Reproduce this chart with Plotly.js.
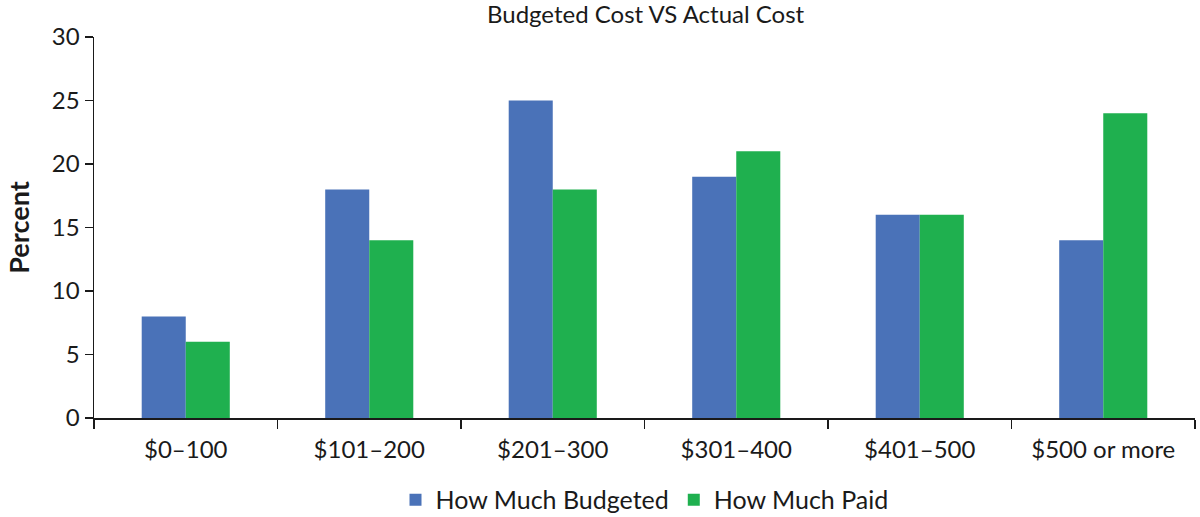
<!DOCTYPE html>
<html>
<head>
<meta charset="utf-8">
<script src="https://cdn.plot.ly/plotly-3.0.1.min.js"></script>
<style>
  body { margin: 0; background: #fff; }
  #chart { width: 1200px; height: 517px; }
</style>
</head>
<body>
<div id="chart"></div>
<script>
const categories = ['$0–100', '$101–200', '$201–300', '$301–400', '$401–500', '$500 or more'];
const budgeted = [8, 18, 25, 19, 16, 14];
const paid = [6, 14, 18, 21, 16, 24];

const font = 'Lato, "Open Sans", sans-serif';

const traces = [
  {
    x: categories,
    y: budgeted,
    name: 'How Much Budgeted',
    type: 'bar',
    marker: { color: '#4a72b8' },
  },
  {
    x: categories,
    y: paid,
    name: 'How Much Paid',
    type: 'bar',
    marker: { color: '#1fb04f' },
  },
];

const layout = {
  width: 1200,
  height: 517,
  margin: { l: 94, r: 5, t: 37, b: 99, autoexpand: false },
  paper_bgcolor: '#fff',
  plot_bgcolor: '#fff',
  font: { family: font, color: '#1a1a1a', size: 24 },
  title: {
    text: 'Budgeted Cost VS Actual Cost',
    font: { size: 24, color: '#1a1a1a' },
    x: 0.538,
    xanchor: 'center',
    y: 0.972,
    yanchor: 'middle',
  },
  barmode: 'group',
  bargap: 0.52,
  bargroupgap: 0,
  showlegend: true,
  legend: {
    orientation: 'h',
    x: 0.5,
    xanchor: 'center',
    y: -0.215,
    yanchor: 'middle',
    font: { size: 25 },
    itemwidth: 30,
    tracegroupgap: 0,
  },
  xaxis: {
    type: 'category',
    showline: true,
    linecolor: '#1a1a1a',
    linewidth: 1.5,
    ticks: 'outside',
    tickson: 'boundaries',
    ticklen: 9,
    tickcolor: '#1a1a1a',
    tickwidth: 1.5,
    ticklabelstandoff: 10,
    showgrid: false,
    zeroline: false,
    tickfont: { size: 24 },
  },
  yaxis: {
    range: [0, 30],
    dtick: 5,
    showline: true,
    linecolor: '#1a1a1a',
    linewidth: 1.5,
    ticks: 'outside',
    ticklen: 8,
    tickcolor: '#1a1a1a',
    tickwidth: 1.5,
    showgrid: false,
    zeroline: false,
    tickfont: { size: 24 },
    title: {
      text: '<b>Percent</b>',
      font: { size: 27 },
      standoff: 14,
    },
  },
};

Plotly.newPlot('chart', traces, layout, { displayModeBar: false, staticPlot: true });
</script>
</body>
</html>
